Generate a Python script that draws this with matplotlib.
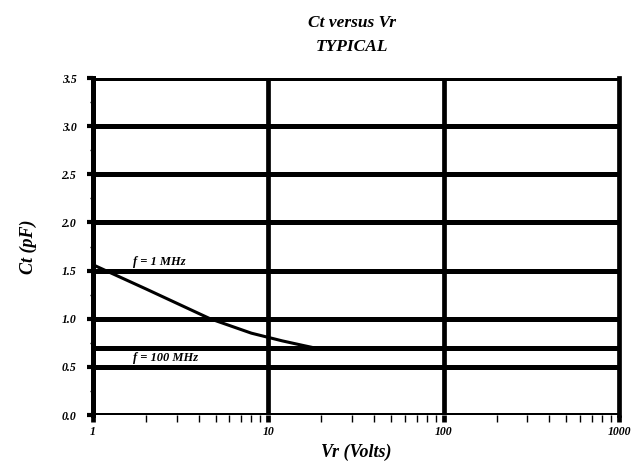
import matplotlib
matplotlib.use("Agg")
import matplotlib.pyplot as plt
from matplotlib.ticker import LogLocator, FixedLocator, NullFormatter

# Ct vs Vr, typical curves
vr_1mhz = [1, 2, 4.65, 8, 12, 16, 18]
ct_1mhz = [1.56, 1.31, 1.00, 0.85, 0.77, 0.72, 0.70]
vr_100mhz = [1, 1000]
ct_100mhz = [0.70, 0.70]

x_ticks = [1, 10, 100, 1000]
x_labels = ["1", "10", "100", "1000"]
y_ticks = [0.0, 0.5, 1.0, 1.5, 2.0, 2.5, 3.0, 3.5]
y_labels = ["0.0", "0.5", "1.0", "1.5", "2.0", "2.5", "3.0", "3.5"]

serif = ["Liberation Serif", "DejaVu Serif"]

fig = plt.figure(figsize=(6.33, 4.66), dpi=100)
ax = fig.add_axes([0.147, 0.1094, 0.831, 0.7232])

ax.set_xscale("log")
ax.set_xlim(1, 1000)
ax.set_ylim(0, 3.5)

# heavy grid like the original scan
for y in y_ticks:
    ax.axhline(y, color="black", lw=3.6, zorder=1)
for x in [10, 100]:
    ax.axvline(x, color="black", lw=3.4, zorder=1)

ax.plot(vr_1mhz, ct_1mhz, color="black", lw=2.2, zorder=3)
ax.plot(vr_100mhz, ct_100mhz, color="black", lw=3.6, zorder=3)

ax.text(1.70, 1.56, "f = 1 MHz", fontsize=9, style="italic", weight="bold", family=serif)
ax.text(1.70, 0.56, "f = 100 MHz", fontsize=9, style="italic", weight="bold", family=serif)

for side in ["top", "bottom"]:
    ax.spines[side].set_visible(False)
ax.spines["left"].set_linewidth(3.6)
ax.spines["right"].set_linewidth(3.4)

ax.set_xticks(x_ticks)
ax.set_xticklabels(x_labels)
ax.xaxis.set_minor_locator(LogLocator(base=10, subs=range(2, 10)))
ax.xaxis.set_minor_formatter(NullFormatter())
ax.set_yticks(y_ticks)
ax.set_yticklabels(y_labels)
ax.yaxis.set_minor_locator(FixedLocator([0.25, 0.75, 1.25, 1.75, 2.25, 2.75, 3.25]))

ax.tick_params(axis="x", which="major", length=5, width=3.4, pad=3)
ax.tick_params(axis="x", which="minor", length=5, width=1.0)
ax.tick_params(axis="y", which="major", length=4, width=3.0, pad=8)
ax.tick_params(axis="y", which="minor", length=2, width=1.0)

for lab in ax.get_xticklabels() + ax.get_yticklabels():
    lab.set_family(serif)
    lab.set_style("italic")
    lab.set_weight("bold")
    lab.set_fontsize(8.5)

ax.set_xlabel("Vr (Volts)", fontsize=13, style="italic", weight="bold", family=serif, labelpad=4)
ax.set_ylabel("Ct (pF)", fontsize=13, style="italic", weight="bold", family=serif, labelpad=18)

fig.text(0.556, 0.951, "Ct versus Vr", ha="center", va="center", fontsize=12.5, style="italic", weight="bold", family=serif)
fig.text(0.556, 0.899, "TYPICAL", ha="center", va="center", fontsize=12.5, style="italic", weight="bold", family=serif)

fig.savefig("out.png", dpi=100)
